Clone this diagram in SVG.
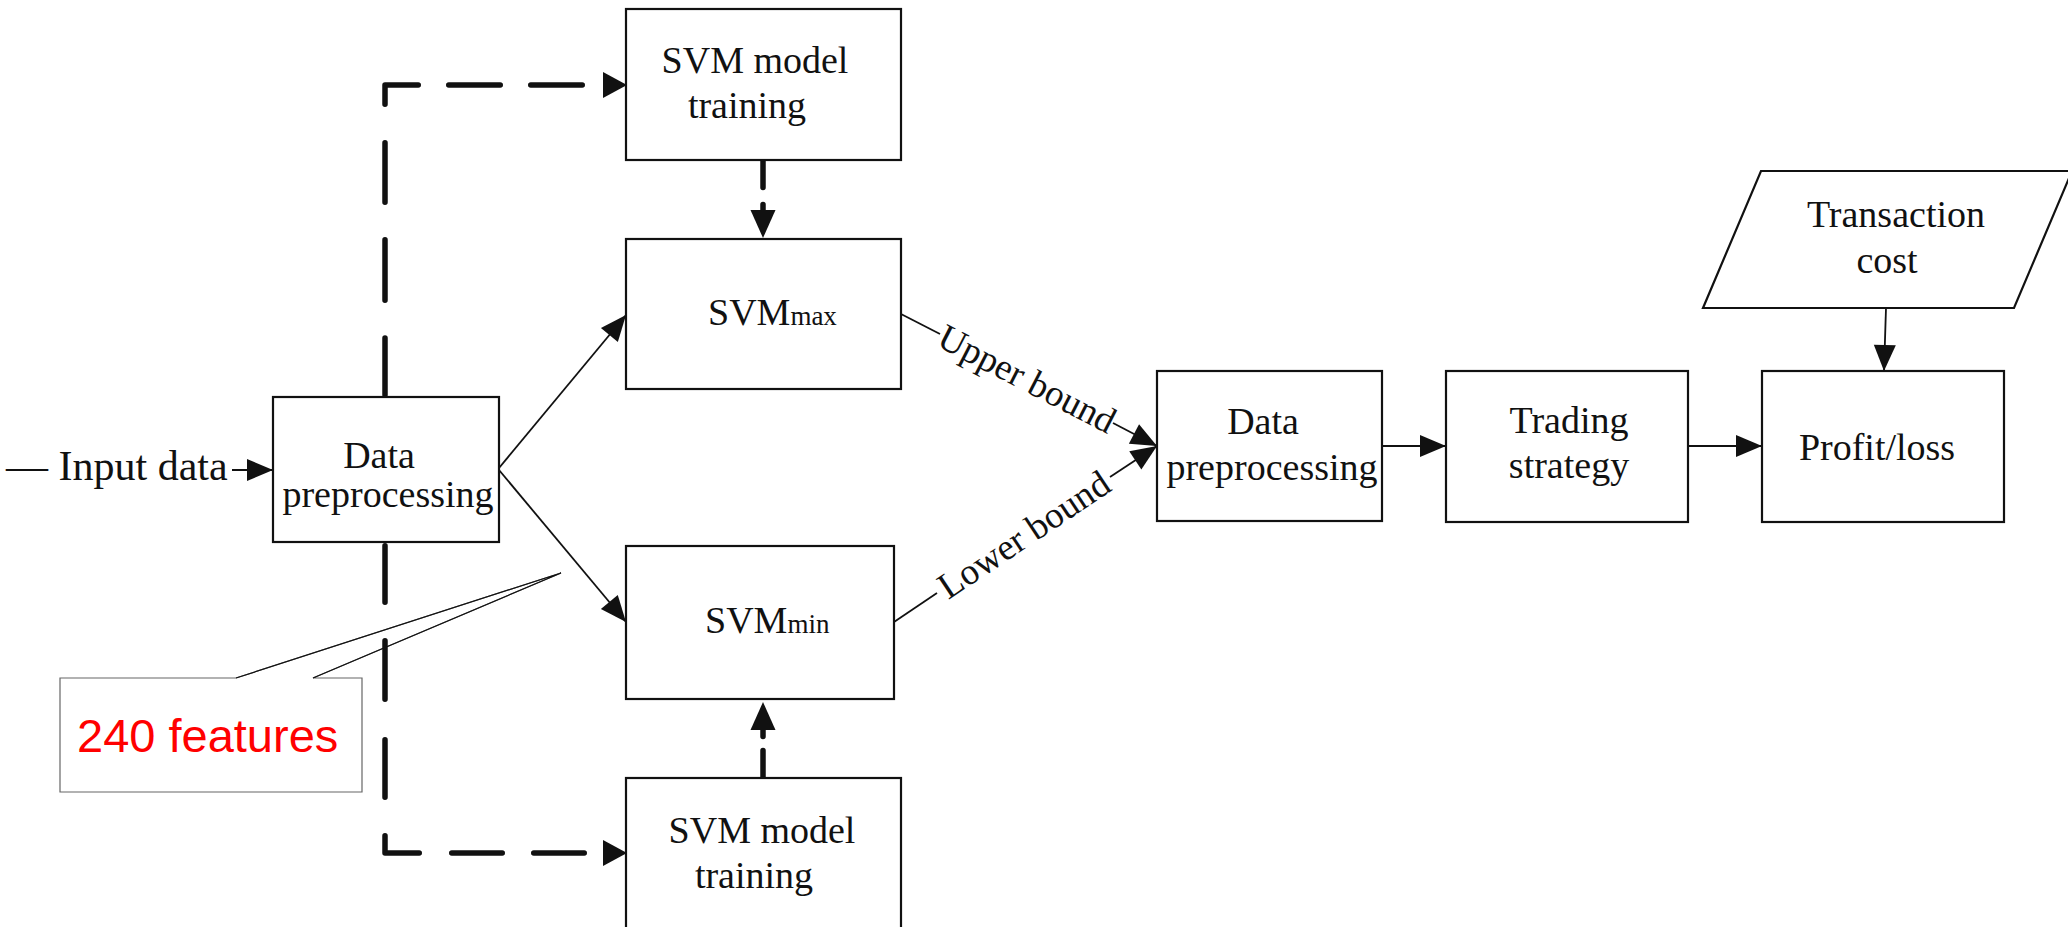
<svg xmlns="http://www.w3.org/2000/svg" width="2068" height="927" viewBox="0 0 2068 927">
<style>
.box{fill:#fff;stroke:#111;stroke-width:2.2}
.t{font-family:"Liberation Serif","Times New Roman",serif;font-size:38px;fill:#111}
.tm{text-anchor:middle}
.sub{font-size:27px}
.ln{fill:none;stroke:#111;stroke-width:1.8}
.dash{fill:none;stroke:#111;stroke-width:5.5;stroke-linecap:round;stroke-linejoin:round}
.call{fill:#fff;stroke:#666;stroke-width:1.2}
.ptr{fill:none;stroke:#111;stroke-width:1.2}
.red{font-family:"Liberation Sans",Arial,sans-serif;font-size:47px;fill:#ff0000}
</style>
<defs>
<marker id="ah" markerUnits="userSpaceOnUse" markerWidth="30" markerHeight="26" refX="26" refY="11" orient="auto" overflow="visible">
<path d="M0,0 L26,11 L0,22 z" fill="#111"/>
</marker>
<marker id="dh" markerUnits="userSpaceOnUse" markerWidth="30" markerHeight="30" refX="0" refY="13" orient="auto" overflow="visible">
<path d="M0,0 L24,13 L0,26 z" fill="#111"/>
</marker>
<marker id="vh" markerUnits="userSpaceOnUse" markerWidth="30" markerHeight="30" refX="0" refY="12.5" orient="auto" overflow="visible">
<path d="M0,0 L28,12.5 L0,25 z" fill="#111"/>
</marker>
</defs>

<g id="callout">
<path class="call" d="M60,678 L236,678 L561,573 L313,678 L362,678 L362,792 L60,792 Z"/>
<path class="ptr" d="M236,678 L561,573 L313,678"/>
<text class="red" x="77" y="752">240 features</text>
</g>

<g id="connectors">
<text class="t" x="6" y="480" style="font-size:42px">— Input data</text>
<path class="ln" d="M232,470 H273" marker-end="url(#ah)"/>
<path class="ln" d="M499,468 L626,315" marker-end="url(#ah)"/>
<path class="ln" d="M499,470 L626,622" marker-end="url(#ah)"/>
<path class="dash" d="M385,395 V85 H603" stroke-dasharray="57 37.75 60.5 37.5 59.5 38.5 52.5 30.5 51.5 30.5 51.5 100" marker-end="url(#dh)"/>
<path class="dash" d="M385,545.75 V853 H603" stroke-dasharray="56.5 38.5 58.5 40.5 57.5 38.5 51.5 32.5 50.5 31.5 50.5 100" marker-end="url(#dh)"/>
<path class="dash" d="M763,160 V210" stroke-dasharray="27.5 17 50" marker-end="url(#vh)"/>
<path class="dash" d="M763,777 V730" stroke-dasharray="26.5 14 50" marker-end="url(#vh)"/>
<path class="ln" d="M901,314 L940,334"/>
<path class="ln" d="M1113,423 L1157,446" marker-end="url(#ah)"/>
<text class="t tm" style="font-size:37px" transform="translate(1027,379) rotate(27.28)" x="0" y="12">Upper bound</text>
<path class="ln" d="M894,622 L937,593"/>
<path class="ln" d="M1110,477 L1157,446" marker-end="url(#ah)"/>
<text class="t tm" style="font-size:37px" transform="translate(1024,535) rotate(-33.79)" x="0" y="12">Lower bound</text>
<path class="ln" d="M1382,446 H1446" marker-end="url(#ah)"/>
<path class="ln" d="M1688,446 H1762" marker-end="url(#ah)"/>
<path class="ln" d="M1886,308 L1884,371" marker-end="url(#ah)"/>
</g>

<g id="dp1">
<rect class="box" x="273" y="397" width="226" height="145"/>
<text class="t tm" x="379" y="468">Data</text>
<text class="t tm" x="388" y="507">preprocessing</text>
</g>
<g id="train-top">
<rect class="box" x="626" y="9" width="275" height="151"/>
<text class="t tm" x="755" y="73">SVM model</text>
<text class="t tm" x="747" y="118">training</text>
</g>
<g id="svm-max">
<rect class="box" x="626" y="239" width="275" height="150"/>
<text class="t" x="708" y="325">SVM<tspan class="sub">max</tspan></text>
</g>
<g id="svm-min">
<rect class="box" x="626" y="546" width="268" height="153"/>
<text class="t" x="705" y="633">SVM<tspan class="sub">min</tspan></text>
</g>
<g id="train-bottom">
<rect class="box" x="626" y="778" width="275" height="165"/>
<text class="t tm" x="762" y="843">SVM model</text>
<text class="t tm" x="754" y="888">training</text>
</g>
<g id="dp2">
<rect class="box" x="1157" y="371" width="225" height="150"/>
<text class="t tm" x="1263" y="434">Data</text>
<text class="t tm" x="1272" y="480">preprocessing</text>
</g>
<g id="trading">
<rect class="box" x="1446" y="371" width="242" height="151"/>
<text class="t tm" x="1569" y="433">Trading</text>
<text class="t tm" x="1569" y="478">strategy</text>
</g>
<g id="profit">
<rect class="box" x="1762" y="371" width="242" height="151"/>
<text class="t tm" x="1877" y="460">Profit/loss</text>
</g>
<g id="transaction">
<polygon class="box" points="1761,171 2072,171 2014,308 1703,308"/>
<text class="t tm" x="1896" y="227">Transaction</text>
<text class="t tm" x="1887" y="273">cost</text>
</g>
</svg>
